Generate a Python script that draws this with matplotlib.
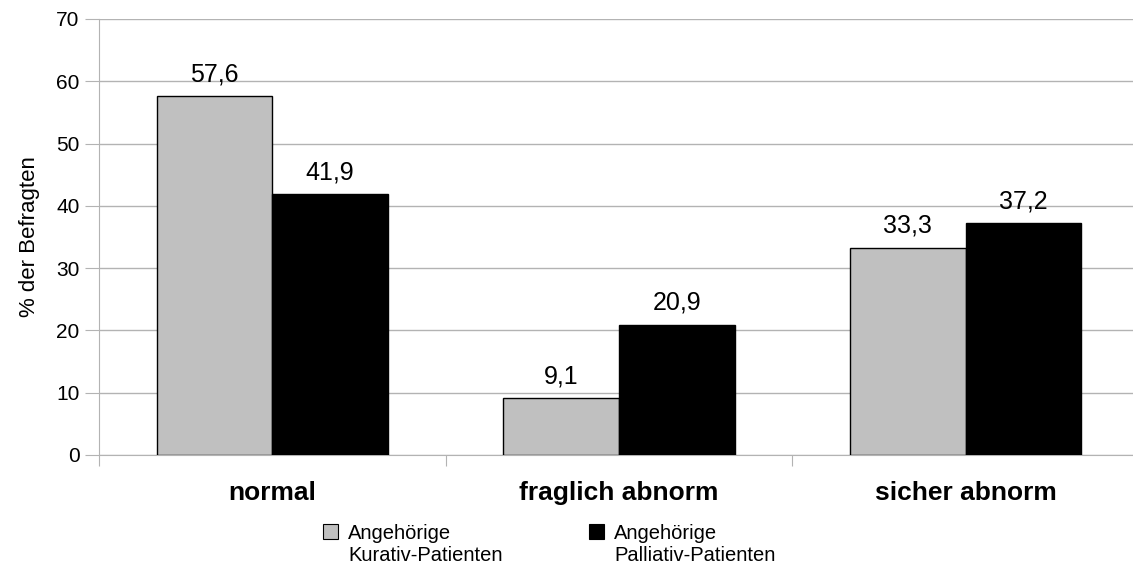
import numpy as np
import matplotlib.pyplot as plt
from matplotlib.patches import Rectangle

plt.rcParams['font.family'] = ['Liberation Sans', 'DejaVu Sans']

categories = ["normal", "fraglich abnorm", "sicher abnorm"]
kurativ = [57.6, 9.1, 33.3]
palliativ = [41.9, 20.9, 37.2]
series_names = ["Angehörige\nKurativ-Patienten", "Angehörige\nPalliativ-Patienten"]
colors = ["#c0c0c0", "black"]
yticks = [0, 10, 20, 30, 40, 50, 60, 70]

W, H = 1133, 569
fig = plt.figure(figsize=(W / 100, H / 100), dpi=100)
# axes runs slightly past the right edge, as in the original
ax = fig.add_axes([99 / W, 1 - 455 / H, 1040 / W, 436 / H])

x = np.arange(len(categories)) + 0.5
w = 1 / 3
b1 = ax.bar(x - w / 2, kurativ, w, color=colors[0], edgecolor="black", linewidth=1, zorder=3)
b2 = ax.bar(x + w / 2, palliativ, w, color=colors[1], edgecolor="black", linewidth=1, zorder=3)

for bars, vals in ((b1, kurativ), (b2, palliativ)):
    for r, v in zip(bars, vals):
        ax.text(r.get_x() + r.get_width() / 2, v + 1.6, f"{v:.1f}".replace(".", ","),
                ha="center", va="bottom", fontsize=18)

ax.set_xlim(0, 3)
ax.set_ylim(0, 70)
ax.set_yticks(yticks)
ax.tick_params(axis="y", labelsize=15, length=10, color="#b3b3b3", pad=4)
ax.set_xticks([0, 1, 2, 3])
ax.set_xticklabels([])
ax.set_xticks(x, minor=True)
ax.set_xticklabels(categories, minor=True, fontsize=19, fontweight="bold")
ax.tick_params(axis="x", which="major", length=8, color="#b3b3b3")
ax.tick_params(axis="x", which="minor", length=0, pad=19)
ax.grid(axis="y", color="#b3b3b3", linewidth=1, zorder=0)
for s in ("top", "right"):
    ax.spines[s].set_visible(False)
for s in ("left", "bottom"):
    ax.spines[s].set_color("#b3b3b3")
ax.set_ylabel("% der Befragten", fontsize=16, labelpad=12)

# legend below the plot: square marker at top, two-line text beside it
leg_x = [323, 589]
for lx, c, name in zip(leg_x, colors, series_names):
    fig.patches.append(Rectangle((lx / W, 1 - 539 / H), 15 / W, 15 / H, transform=fig.transFigure,
                                 facecolor=c, edgecolor="black", linewidth=0.8))
    fig.text((lx + 25) / W, 1 - 524 / H, name, fontsize=14.5, va="top", ha="left", linespacing=1.2)

fig.savefig("out.png", dpi=100)
